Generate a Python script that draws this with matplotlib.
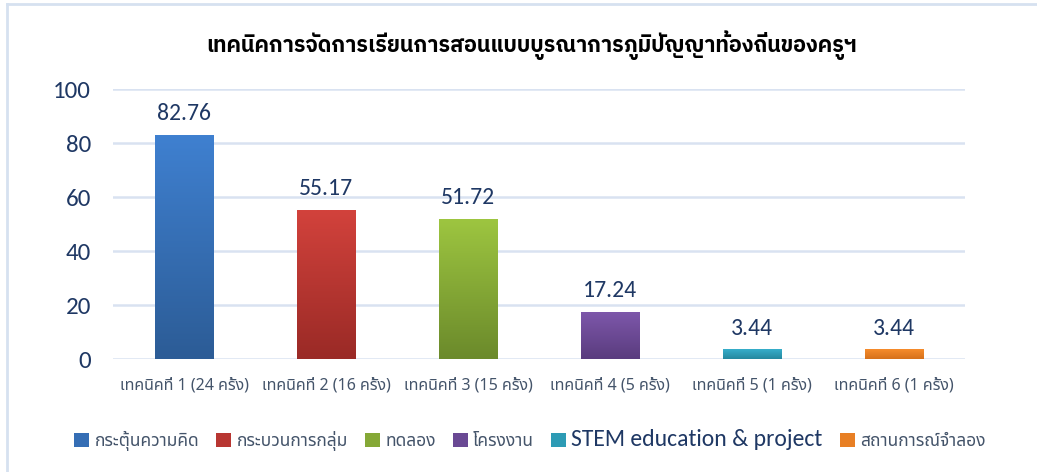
import numpy as np
import matplotlib
matplotlib.use('Agg')
import matplotlib.pyplot as plt
from matplotlib.colors import LinearSegmentedColormap
from matplotlib.patches import Patch
from matplotlib.lines import Line2D

plt.rcParams['font.family'] = ['Noto Sans Thai', 'Carlito', 'DejaVu Sans']

# data
categories = ['เทคนิคที่ 1 (24 ครั้ง)', 'เทคนิคที่ 2 (16 ครั้ง)', 'เทคนิคที่ 3 (15 ครั้ง)',
              'เทคนิคที่ 4 (5 ครั้ง)', 'เทคนิคที่ 5 (1 ครั้ง)', 'เทคนิคที่ 6 (1 ครั้ง)']
values = [82.76, 55.17, 51.72, 17.24, 3.44, 3.44]
series = ['กระตุ้นความคิด', 'กระบวนการกลุ่ม', 'ทดลอง', 'โครงงาน',
          'STEM education & project', 'สถานการณ์จำลอง']
title = 'เทคนิคการจัดการเรียนการสอนแบบบูรณาการภูมิปัญญาท้องถิ่นของครูฯ'

# colours (top, bottom) for the gradient
top_cols = ['#3f80d0', '#d2423c', '#9dc540', '#7d57aa', '#36aecb', '#f68c2c']
bot_cols = ['#2c5c96', '#9a2a26', '#6b8a2b', '#5a3c7e', '#24889f', '#d6711b']
mid_cols = ['#356eb5', '#b83632', '#85a836', '#6a4994', '#2d9bb5', '#e87f24']

text_col = '#1f3864'
tick_col = '#44546a'
grid_col = '#d9e2f1'
num_font = ['Carlito', 'DejaVu Sans']

fig = plt.figure(figsize=(10.37, 4.72), dpi=100)
ax = fig.add_axes([0.109, 0.2394, 0.8216, 0.572])

x = np.arange(len(categories))
bars = ax.bar(x, values, width=0.41, color='none', zorder=3)

for b, c1, c2 in zip(bars, top_cols, bot_cols):
    cmap = LinearSegmentedColormap.from_list('g', [c2, c1])
    grad = np.linspace(0, 1, 100).reshape(-1, 1)
    ax.imshow(grad, cmap=cmap, origin='lower', aspect='auto', zorder=3,
              extent=[b.get_x(), b.get_x() + b.get_width(), 0, b.get_height()])
    # soft shadow under bar
    ax.plot([b.get_x(), b.get_x() + b.get_width()], [-0.6, -0.6], color='#c8c8c8',
            lw=2, alpha=0.6, zorder=2, solid_capstyle='butt')

for xi, v in zip(x, values):
    ax.annotate(f'{v:.2f}', (xi, v), xytext=(0, 8), textcoords='offset points',
                ha='center', va='bottom', fontsize=17, color=text_col, family=num_font)

ax.set_xlim(-0.5, len(categories) - 0.5)
ax.set_ylim(0, 100)
ax.set_yticks([0, 20, 40, 60, 80, 100])
ax.set_xticks(x)
ax.set_xticklabels(categories, fontsize=11.5, color=tick_col)
for lab in ax.get_yticklabels():
    lab.set_fontsize(18)
    lab.set_color(text_col)
    lab.set_family(num_font)
ax.tick_params(axis='both', length=0)
ax.tick_params(axis='y', pad=16)
ax.tick_params(axis='x', pad=13)
ax.grid(axis='y', color=grid_col, lw=1.8, zorder=0)
ax.set_axisbelow(True)
for s in ax.spines.values():
    s.set_visible(False)

fig.text(0.513, 0.905, title, ha='center', va='center', fontsize=15.5,
         fontweight='bold', color='black', family=['IBM Plex Sans Thai', 'Noto Sans Thai'])

handles = [Patch(facecolor=c, edgecolor='none') for c in mid_cols]
leg = fig.legend(handles, series, loc='center', bbox_to_anchor=(0.511, 0.068),
                 ncol=6, frameon=False, fontsize=12.5, handlelength=0.85,
                 handleheight=0.8, handletextpad=0.3, columnspacing=1.0)
for t in leg.get_texts():
    t.set_color(tick_col)
    if t.get_text().startswith('STEM'):
        t.set_fontsize(17)
        t.set_color(text_col)
        t.set_family(num_font)

# chart border (top and left)
fig.add_artist(Line2D([6.5 / 1037, 1], [1 - 3.5 / 472, 1 - 3.5 / 472], color='#d6e1f0', lw=2))
fig.add_artist(Line2D([6.5 / 1037, 6.5 / 1037], [0, 1 - 3.5 / 472], color='#d6e1f0', lw=2))

fig.savefig('out.png', dpi=100)
